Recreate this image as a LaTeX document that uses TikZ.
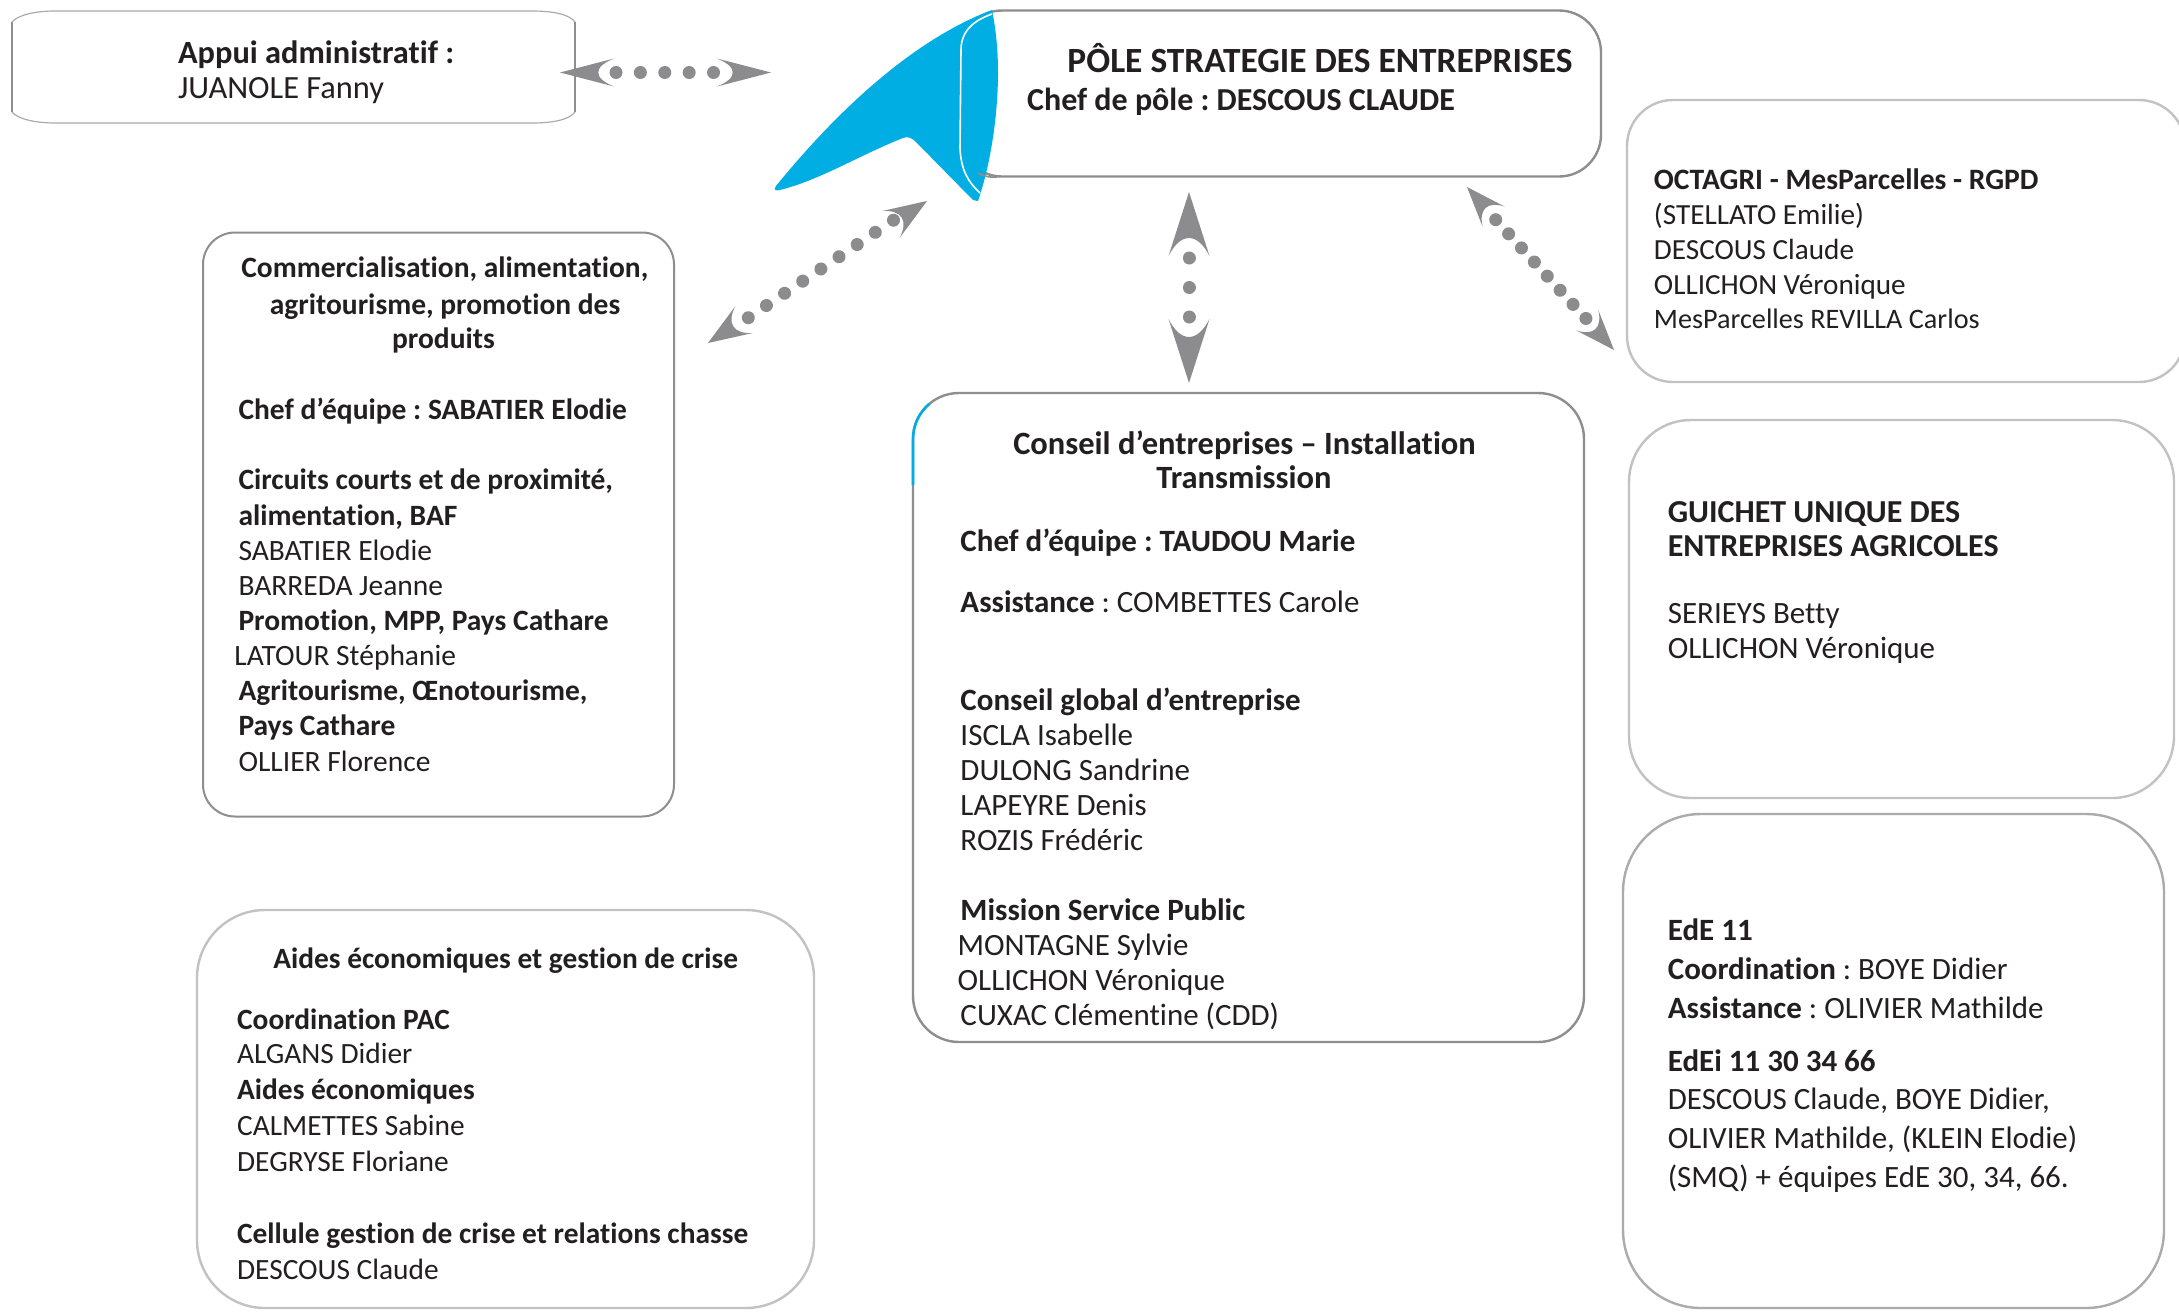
\documentclass[tikz,border=0pt]{standalone}
\usepackage{fontspec}
\setmainfont{Carlito}[Ligatures=CommonOff]
\frenchspacing
\definecolor{txtc}{HTML}{231F20}
\definecolor{linec}{HTML}{8E8E8E}
\definecolor{midc}{HTML}{ABABAB}
\definecolor{lightc}{HTML}{C2C2C2}
\definecolor{arrc}{HTML}{8C8C8E}
\definecolor{bluec}{HTML}{00AEE4}
\newcounter{tlc}
\def\fs{29}
\def\dy{0}
\tikzset{
  boxst/.style={draw=linec,line width=2.4pt,fill=white,inner sep=0pt,outer sep=0pt,anchor=north west},
  txt/.style={anchor=base west,inner sep=0pt,text=txtc,font=\fontsize{\fs}{35}\selectfont},
  bld/.style={txt,font=\fontsize{\fs}{35}\selectfont\bfseries},
  dotline/.style={arrc,line width=13pt,line cap=round,dash pattern=on 0.01pt off #1},
}
% #1 tip coordinate, #2 direction towards the body, #3 length, #4 half width, #5 control reach
\newcommand\arrhead[5]{%
  \fill[arrc,shift={(#1)},rotate=#2] (0,0) -- (#3,#4)
    .. controls (#5,0.4*#4) and (#5,-0.4*#4) .. (#3,-#4) -- cycle;
}
\newcommand\tn[3]{\stepcounter{tlc}\node[txt] (t\thetlc) at (#1,{#2+\dy}) {#3};}
\newcommand\tb[3]{\stepcounter{tlc}\node[bld] (t\thetlc) at (#1,{#2+\dy}) {#3};}
\begin{document}
\begin{tikzpicture}[x=1pt,y=-1pt]
\useasboundingbox (0,0) rectangle (2179,1312);
\fill[white] (0,0) rectangle (2179,1312);
% boxes
\node[boxst,draw=none,minimum width=563pt,minimum height=112pt] (appui) at (12,11) {};
\draw[midc,line width=1.2pt] (12,22) .. controls (18,15) and (35,11) .. (55,11) -- (532,11) .. controls (555,11) and (570,15) .. (575,22);
\draw[midc,line width=1.2pt] (12,112) .. controls (18,119) and (35,123) .. (55,123) -- (532,123) .. controls (555,123) and (570,119) .. (575,112);
\draw[linec,line width=2.8pt] (12,22) -- (12,112);
\draw[linec,line width=2.8pt] (575,22) -- (575,112);
\node[boxst,rounded corners=42pt,minimum width=641pt,minimum height=166pt] (pole) at (960,10.5) {};
\node[boxst,line width=2pt,rounded corners=32pt,minimum width=471pt,minimum height=584pt] (comm) at (203,232.5) {};
\node[boxst,draw=lightc,rounded corners=68pt,minimum width=617pt,minimum height=398pt] (aides) at (197,910) {};
\node[boxst,rounded corners=46pt,minimum width=671pt,minimum height=649pt] (cons) at (913,393) {};
\node[boxst,draw=lightc,rounded corners=46pt,minimum width=558pt,minimum height=282pt] (octa) at (1627,100) {};
\node[boxst,draw=lightc,rounded corners=62pt,minimum width=545pt,minimum height=378pt] (guich) at (1629,420) {};
\node[boxst,draw=midc,rounded corners=78pt,minimum width=541pt,minimum height=494pt] (ede) at (1623,814) {};
% blue accent on the Conseil box
\draw[bluec,line width=2.6pt] (913,485) -- (913,439) arc[start angle=180,end angle=230,radius=46];
% blue shape of the pole box
\fill[bluec] (992,10) .. controls (925,35) and (850,95) .. (776,186)
  .. controls (773,190) and (776,191) .. (780,190)
  .. controls (820,180) and (860,155) .. (903,138)
  .. controls (908,136) and (912,138) .. (916,142)
  -- (973,200) -- (978,201)
  .. controls (992,160) and (998,110) .. (998,73)
  .. controls (998,50) and (996,30) .. (992,10) -- cycle;
\draw[white,line width=1.6pt] (992,14) .. controls (975,20) and (961,30) .. (961,50) -- (960,148)
  .. controls (961,170) and (968,182) .. (980,193);
\draw[linec,line width=1.6pt] (978,173) .. controls (984,176) and (990,178) .. (997,177);
% connectors
\coordinate (ha) at (560,72.5); \coordinate (hb) at (771,72.5);
\coordinate (hs) at (616,72.5); \coordinate (he) at (714,72.5);
\draw[dotline=24.37pt] (hs) -- (he);
\arrhead{ha}{0}{54}{14}{33}
\arrhead{hb}{180}{54}{14}{33}
\coordinate (la) at (708,343); \coordinate (lb) at (927,201);
\coordinate (ls) at (748.3,317.7); \coordinate (le) at (894,219.8);
\draw[dotline=21.85pt] (ls) -- (le);
\arrhead{la}{33}{43}{16}{26}
\arrhead{lb}{213}{43}{16}{26}
\coordinate (va) at (1189,192); \coordinate (vb) at (1189,383);
\coordinate (vs) at (1189,258); \coordinate (ve) at (1189,318);
\draw[dotline=29.5pt] (vs) -- (ve);
\arrhead{va}{-90}{64}{20.5}{40}
\arrhead{vb}{90}{64}{20.5}{40}
\coordinate (ra) at (1467,187); \coordinate (rb) at (1614,350);
\coordinate (rs) at (1495.7,219.7); \coordinate (re) at (1586.2,318.8);
\draw[dotline=19.1pt] (rs) -- (re);
\arrhead{ra}{-48}{40}{15}{24}
\arrhead{rb}{132}{40}{15}{24}
% texts
\begin{scope}[x=1.3897pt,y=-1.3897pt]
\def\dy{1}
\def\fs{32.4}
\tb{128}{44.5}{Appui administratif :}
\tn{128}{70}{JUANOLE Fanny}
\def\fs{35.4}
\tb{768}{51}{PÔLE STRATEGIE DES ENTREPRISES}
\def\fs{32}
\tb{739}{78.5}{Chef de pôle : DESCOUS CLAUDE}
\def\dy{0.5}
\def\fs{29.5}
\tb{173.5}{199.5}{Commercialisation, alimentation,}
\tb{194}{225.5}{agritourisme, promotion des}
\tb{282}{250.5}{produits}
\tb{171.5}{301}{Chef d’équipe : SABATIER Elodie}
\tb{171.5}{352}{Circuits courts et de proximité,}
\tb{171.5}{377.5}{alimentation, BAF}
\tn{171.5}{403}{SABATIER Elodie}
\tn{171.5}{428}{BARREDA Jeanne}
\tb{171.5}{453.5}{Promotion, MPP, Pays Cathare}
\tn{168.5}{478.5}{LATOUR Stéphanie}
\tb{171.5}{503.5}{Agritourisme, Œnotourisme,}
\tb{171.5}{528.5}{Pays Cathare}
\tn{171.5}{554.5}{OLLIER Florence}
\def\fs{29.4}
\tb{196.5}{696.5}{Aides économiques et gestion de crise}
\tb{170.5}{740}{Coordination PAC}
\tn{170.5}{765}{ALGANS Didier}
\tb{170.5}{790.5}{Aides économiques}
\tn{170.5}{816.5}{CALMETTES Sabine}
\tn{170.5}{842.5}{DEGRYSE Floriane}
\tb{170.5}{894.5}{Cellule gestion de crise et relations chasse}
\tn{170.5}{920.5}{DESCOUS Claude}
\def\dy{1.2}
\def\fs{32.5}
\tb{729}{325.5}{Conseil d’entreprises – Installation}
\tb{832}{350.5}{Transmission}
\def\fs{31}
\tb{691}{395.5}{Chef d’équipe : TAUDOU Marie}
\tn{691}{439.5}{\textbf{Assistance} : COMBETTES Carole}
\tb{691}{510}{Conseil global d’entreprise}
\tn{691}{535}{ISCLA Isabelle}
\tn{691}{560.5}{DULONG Sandrine}
\tn{691}{585.5}{LAPEYRE Denis}
\tn{691}{610.5}{ROZIS Frédéric}
\tb{691}{661}{Mission Service Public}
\tn{689}{686.5}{MONTAGNE Sylvie}
\tn{689}{711.5}{OLLICHON Véronique}
\tn{691}{737}{CUXAC Clémentine (CDD)}
\def\dy{0}
\def\fs{29.6}
\tb{1190}{136}{OCTAGRI - MesParcelles - RGPD}
\def\fs{29.2}
\tn{1190}{161.5}{(STELLATO Emilie)}
\tn{1190}{186.5}{DESCOUS Claude}
\tn{1190}{212}{OLLICHON Véronique}
\def\fs{28.2}
\tn{1190}{236.5}{MesParcelles REVILLA Carlos}
\def\dy{1.2}
\def\fs{32}
\tb{1200}{374.5}{GUICHET UNIQUE DES}
\tb{1200}{399.5}{ENTREPRISES AGRICOLES}
\def\fs{31}
\tn{1200}{447.5}{SERIEYS Betty}
\tn{1200}{472.5}{OLLICHON Véronique}
\def\dy{0.8}
\tb{1200}{676}{EdE 11}
\tn{1200}{704}{\textbf{Coordination} : BOYE Didier}
\tn{1200}{732}{\textbf{Assistance} : OLIVIER Mathilde}
\tb{1200}{770}{EdEi 11 30 34 66}
\tn{1200}{797.5}{DESCOUS Claude, BOYE Didier,}
\tn{1200}{825.5}{OLIVIER Mathilde, (KLEIN Elodie)}
\tn{1200}{853.5}{(SMQ) + équipes EdE 30, 34, 66.}
\end{scope}
\end{tikzpicture}
\end{document}
